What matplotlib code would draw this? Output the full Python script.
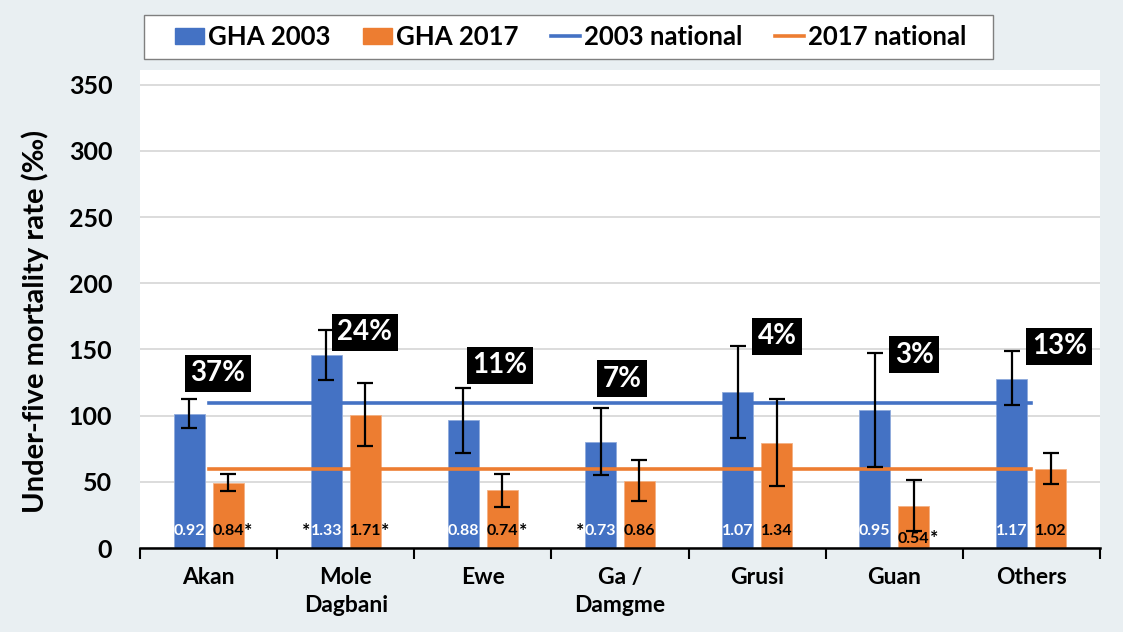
import numpy as np
import matplotlib.pyplot as plt
from matplotlib.patches import Patch, Rectangle
from matplotlib.lines import Line2D

plt.rcParams['font.family'] = ['Lato', 'DejaVu Sans']
plt.rcParams['font.weight'] = 'bold'

groups = ["Akan", "Mole\nDagbani", "Ewe", "Ga /\nDamgme", "Grusi", "Guan", "Others"]

u5mr_2003 = [101, 146, 96.7, 80, 118, 104, 128]
low_2003 = [90.6, 127, 72, 55, 83, 61, 108]
high_2003 = [112.5, 165, 121, 106, 152.6, 147, 148.6]

u5mr_2017 = [49, 100.5, 43.8, 50.6, 79.5, 31.7, 60]
low_2017 = [43, 77, 31, 35.5, 47, 12.8, 48.5]
high_2017 = [56, 125, 56, 66.5, 112.5, 51.4, 72]

national_2003 = [109.5] * 7
national_2017 = [59.6] * 7

ratio_2003 = ["0.92", "1.33", "0.88", "0.73", "1.07", "0.95", "1.17"]
star_2003 = [False, True, False, True, False, False, False]
ratio_2017 = ["0.84", "1.71", "0.74", "0.86", "1.34", "0.54", "1.02"]
star_2017 = [True, True, True, False, False, True, False]

share = ["37%", "24%", "11%", "7%", "4%", "3%", "13%"]
share_y = [132, 163, 138, 128, 160, 146, 152.5]
share_dx = [0.066, 0.139, 0.124, 0.015, 0.146, 0.146, 0.204]

blue = "#4472C4"
orange = "#ED7D31"
bg = "#E9EFF2"

fig = plt.figure(figsize=(11.23, 6.32), dpi=100)
fig.patch.set_facecolor(bg)
ax = fig.add_axes([0.1247, 0.1329, 0.8548, 0.756])
ax.set_facecolor("white")

x = np.arange(len(groups))
w = 0.226
off = 0.142

err03 = [np.array(u5mr_2003) - np.array(low_2003), np.array(high_2003) - np.array(u5mr_2003)]
err17 = [np.array(u5mr_2017) - np.array(low_2017), np.array(high_2017) - np.array(u5mr_2017)]

ax.bar(x - off, u5mr_2003, w, color=blue, edgecolor="#8FAADC", linewidth=0.6, zorder=2)
ax.bar(x + off, u5mr_2017, w, color=orange, edgecolor="#F4B183", linewidth=0.6, zorder=2)

ax.plot(x, national_2003, color=blue, lw=2.6, zorder=3)
ax.plot(x, national_2017, color=orange, lw=2.6, zorder=3)

ax.errorbar(x - off, u5mr_2003, yerr=err03, fmt="none", ecolor="black", elinewidth=1.6,
            capsize=6, capthick=1.6, zorder=4)
ax.errorbar(x + off, u5mr_2017, yerr=err17, fmt="none", ecolor="black", elinewidth=1.6,
            capsize=6, capthick=1.6, zorder=4)

# ratio labels at the foot of each bar, asterisk just outside the bar
for i in range(len(groups)):
    ax.text(x[i] - off, 12.5, ratio_2003[i], color="white", ha="center", va="center",
            fontsize=11.5, fontweight="bold", zorder=5)
    if star_2003[i]:
        ax.annotate("*", (x[i] - off - w / 2, 12.5), xytext=(-0.5, 0),
                    textcoords="offset points", color="black", ha="right", va="center",
                    fontsize=14, fontweight="bold", zorder=5)
    y17 = 7 if groups[i] == "Guan" else 12.5
    ax.text(x[i] + off, y17, ratio_2017[i], color="black", ha="center", va="center",
            fontsize=11.5, fontweight="bold", zorder=5)
    if star_2017[i]:
        ax.annotate("*", (x[i] + off + w / 2, y17), xytext=(0.5, 0),
                    textcoords="offset points", color="black", ha="left", va="center",
                    fontsize=14, fontweight="bold", zorder=5)

for i in range(len(groups)):
    ax.text(x[i] + share_dx[i], share_y[i], share[i], color="white", ha="center", va="center",
            fontsize=20, fontweight="bold", zorder=6,
            bbox=dict(boxstyle="square,pad=0.2", fc="black", ec="none"))

ax.set_xlim(-0.5, 6.5)
ax.set_ylim(0, 361)
ax.set_yticks(np.arange(0, 351, 50))
ax.tick_params(axis="y", length=0, pad=20, labelsize=18)
ax.set_xticks(x)
ax.set_xticklabels(groups, fontsize=16.5, fontweight="bold", linespacing=1.4)
ax.tick_params(axis="x", length=0, pad=14)
ax.set_xticks(np.arange(-0.5, 7, 1), minor=True)
ax.tick_params(axis="x", which="minor", length=8, width=1.5, direction="out", color="black")
for lbl in ax.get_yticklabels():
    lbl.set_fontweight("bold")

ax.grid(axis="y", color="#D9D9D9", lw=1.3, zorder=0)
ax.set_axisbelow(True)
for s in ["top", "right", "left"]:
    ax.spines[s].set_visible(False)
ax.spines["bottom"].set_linewidth(1.8)

ax.set_ylabel("Under-five mortality rate (‰)", fontsize=21, fontweight="bold")
ax.yaxis.set_label_coords(-0.095, 0.475)

# legend frame drawn by hand so the side padding matches
fig.patches.append(Rectangle((144 / 1123, 1 - 59 / 632), 849 / 1123, 44 / 632,
                             transform=fig.transFigure, fc="white", ec="#7F7F7F", lw=1.0,
                             zorder=0))
handles = [Patch(color=blue), Patch(color=orange),
           Line2D([], [], color=blue, lw=2.6), Line2D([], [], color=orange, lw=2.6)]
labels = ["GHA 2003", "GHA 2017", "2003 national", "2017 national"]
fig.legend(handles, labels, loc="center", bbox_to_anchor=(0.508, 0.9415), ncol=4,
           prop={"size": 18.5, "weight": "bold"}, frameon=False,
           handlelength=1.15, handleheight=0.6, handletextpad=0.15,
           columnspacing=1.25, borderpad=0.3, borderaxespad=0)

fig.savefig("out.png", dpi=100, facecolor=bg)
